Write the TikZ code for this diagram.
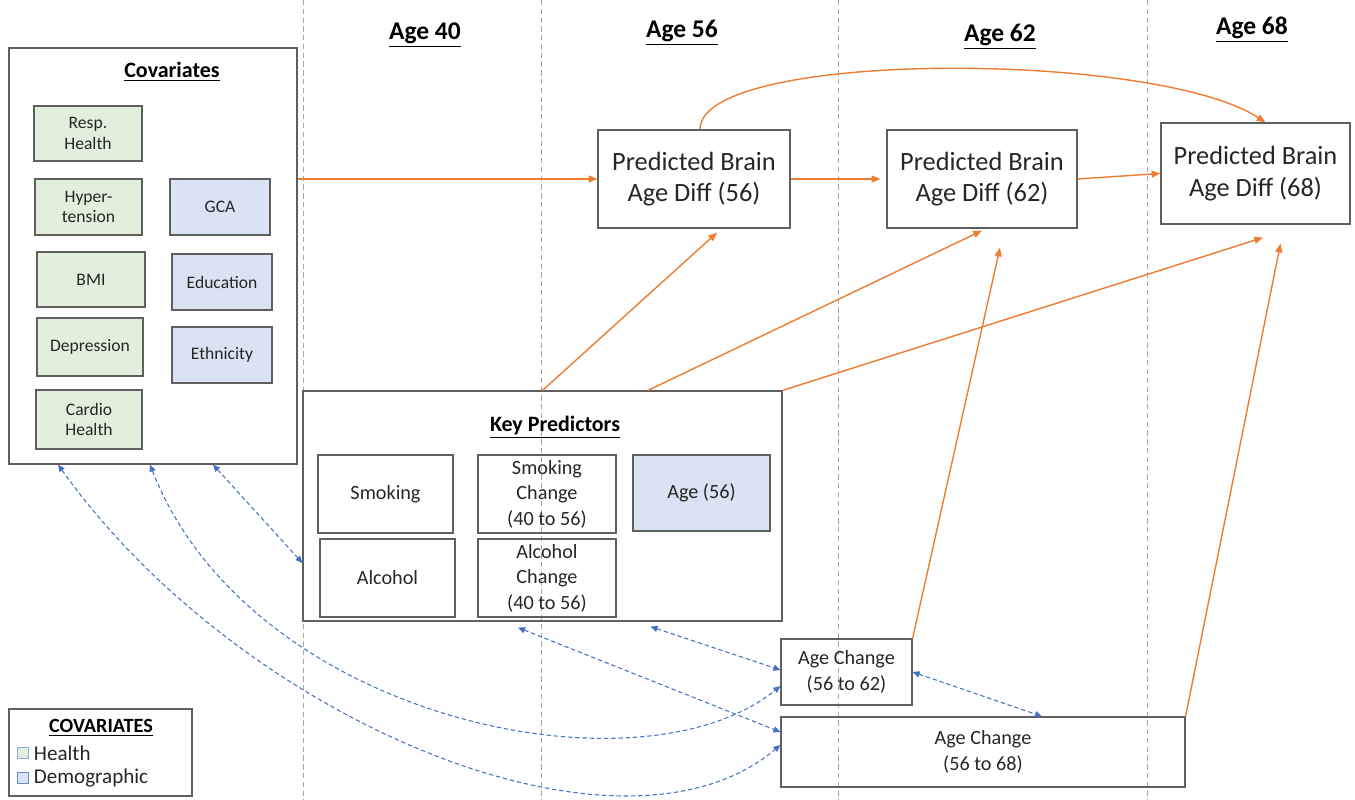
\documentclass[tikz,border=0pt]{standalone}
\usepackage{fontspec}
\setmainfont{Carlito}
\usetikzlibrary{arrows.meta,positioning}

\definecolor{orng}{RGB}{237,125,49}
\definecolor{blu}{RGB}{68,114,196}
\definecolor{hfill}{RGB}{226,239,218}
\definecolor{dfill}{RGB}{218,227,243}
\definecolor{edge}{RGB}{95,95,95}

\tikzset{
    grid/.style={draw=gray!70, line width=0.5pt, dash pattern=on 3pt off 2pt},
    head/.style={font=\fontsize{14.5}{17}\selectfont\bfseries, inner sep=1pt},
    title/.style={font=\fontsize{12.5}{15}\selectfont\bfseries, inner sep=1pt},
    box/.style={draw=edge, line width=0.7pt, align=center, inner sep=1pt, text=black!85},
    hbox/.style={box, fill=hfill, font=\fontsize{10}{11.5}\selectfont},
    dbox/.style={box, fill=dfill, font=\fontsize{10}{11.5}\selectfont},
    kbox/.style={box, font=\fontsize{11.5}{14.5}\selectfont},
    bbox/.style={box, font=\fontsize{15}{18}\selectfont},
    legtext/.style={font=\fontsize{12}{14}\selectfont, inner sep=1pt, text=black!85},
    effect/.style={draw=orng, line width=0.8pt, -{Triangle[length=5pt,width=4pt]}},
    corr/.style={draw=blu, line width=0.6pt, dash pattern=on 2.5pt off 1.6pt,
        {Triangle[length=4pt,width=3.5pt]}-{Triangle[length=4pt,width=3.5pt]}}
}

\begin{document}
\begin{tikzpicture}[x=0.02cm, y=-0.02cm]
    \useasboundingbox (0,0) rectangle (1355,800);

    \draw[grid] (303, 0) to (303, 800);
    \draw[grid] (541, 0) to (541, 800);
    \draw[grid] (838, 0) to (838, 800);
    \draw[grid] (1147, 0) to (1147, 800);

    \node[head] (h40) at (425, 35) {\underline{Age 40}};
    \node[head] (h56) at (682, 33) {\underline{Age 56}};
    \node[head] (h62) at (1000, 37) {\underline{Age 62}};
    \node[head] (h68) at (1252, 30) {\underline{Age 68}};

    % covariates
    \node[box, minimum width=5.76cm, minimum height=8.32cm] (cov) at (153, 256) {};
    \node[title] (covt) at (172, 72) {\underline{Covariates}};
        \node[hbox, minimum width=2.16cm, minimum height=1.1cm] (resp) at (88, 133.5) {Resp.\\Health};
        \node[hbox, minimum width=2.14cm, minimum height=1.12cm] (hyp) at (88.5, 207) {Hyper-\\tension};
        \node[hbox, minimum width=2.16cm, minimum height=1.1cm] (bmi) at (91, 279.5) {BMI};
        \node[hbox, minimum width=2.12cm, minimum height=1.16cm] (dep) at (90, 347) {Depression};
        \node[hbox, minimum width=2.12cm, minimum height=1.18cm] (card) at (89, 419.5) {Cardio\\Health};
        \node[dbox, minimum width=2cm, minimum height=1.12cm] (gca) at (220, 207) {GCA};
        \node[dbox, minimum width=2cm, minimum height=1.12cm] (edu) at (222, 282) {Education};
        \node[dbox, minimum width=2cm, minimum height=1.12cm] (eth) at (222, 355) {Ethnicity};

    % brain age
    \node[bbox, minimum width=3.84cm, minimum height=1.96cm] (p56) at (694, 179) {Predicted Brain\\Age Diff (56)};
    \node[bbox, minimum width=3.8cm, minimum height=1.96cm] (p62) at (982, 179) {Predicted Brain\\Age Diff (62)};
    \node[bbox, minimum width=3.78cm, minimum height=2.02cm] (p68) at (1255.5, 173.5) {Predicted Brain\\Age Diff (68)};

    % key predictors
    \node[box, minimum width=9.58cm, minimum height=4.6cm] (key) at (542.5, 506) {};
    \node[title] (keyt) at (555, 427) {\underline{Key Predictors}};
        \node[kbox, minimum width=2.7cm, minimum height=1.56cm] (smk) at (385.5, 494) {Smoking};
        \node[kbox, minimum width=2.76cm, minimum height=1.56cm] (smkc) at (547, 494) {Smoking\\Change\\(40 to 56)};
        \node[kbox, fill=dfill, minimum width=2.74cm, minimum height=1.52cm] (age) at (701.5, 493) {Age (56)};
        \node[kbox, minimum width=2.7cm, minimum height=1.56cm] (alc) at (387.5, 578) {Alcohol};
        \node[kbox, minimum width=2.76cm, minimum height=1.56cm] (alcc) at (547, 578) {Alcohol\\Change\\(40 to 56)};

    \node[kbox, minimum width=2.62cm, minimum height=1.32cm] (ac62) at (846.5, 672) {Age Change\\(56 to 62)};
    \node[kbox, minimum width=8.08cm, minimum height=1.4cm] (ac68) at (983, 752) {Age Change\\(56 to 68)};

    % legend
    \node[box, minimum width=3.66cm, minimum height=1.74cm] (leg) at (100.5, 752.5) {};
    \node[title, font=\fontsize{11.5}{14}\selectfont\bfseries] (legt) at (101, 728) {\underline{COVARIATES}};
        \node[draw=blu!60, fill=hfill, line width=0.6pt, minimum size=0.23cm, inner sep=0pt] (lgh) at (23, 753) {};
        \node[legtext, right=0.05cm of lgh] (lghtxt) {Health};
        \node[draw=blu!80, fill=dfill, line width=0.6pt, minimum size=0.23cm, inner sep=0pt] (lgd) at (23, 778) {};
        \node[legtext, right=0.05cm of lgd] (lgdtxt) {Demographic};

    % paths
    \draw[effect] (cov.east |- p56.west) -- (p56.west);
    \draw[effect] (p56.east) -- ([xshift=-0.12cm]p62.west);
    \draw[effect] (p62.east) -- (p68.west);
    \draw[effect] ([xshift=0.12cm]p56.north) .. controls +(0, -80) and +(-110, -72) .. ([xshift=0.2cm]p68.north);
    \draw[effect] (key.north) -- ([xshift=0.46cm, yshift=-0.08cm]p56.south);
    \draw[effect] ([xshift=2.11cm]key.north) -- ([yshift=-0.04cm]p62.south);
    \draw[effect] (key.north east) -- ([xshift=0.15cm, yshift=-0.26cm]p68.south);
    \draw[effect] (ac62.north east) -- ([xshift=0.36cm, yshift=-0.38cm]p62.south);
    \draw[effect] (ac68.north east) -- ([xshift=0.5cm, yshift=-0.38cm]p68.south);

    \draw[corr] ([xshift=1.2cm]cov.south) -- ([yshift=-1.14cm]key.west);
    \draw[corr] ([xshift=-0.06cm]cov.south) .. controls (250, 720) and (640, 800) .. ([yshift=-0.28cm]ac62.west);
    \draw[corr] ([xshift=-1.9cm]cov.south) .. controls (240, 720) and (620, 880) .. ([yshift=0.14cm]ac68.west);
    \draw[corr] ([xshift=2.16cm, yshift=-0.1cm]key.south) -- ([yshift=0.04cm]ac62.west);
    \draw[corr] ([xshift=-0.49cm, yshift=-0.12cm]key.south) -- ([yshift=0.4cm]ac68.west);
    \draw[corr] (ac62.east) -- ([xshift=1.18cm]ac68.north);
\end{tikzpicture}
\end{document}
